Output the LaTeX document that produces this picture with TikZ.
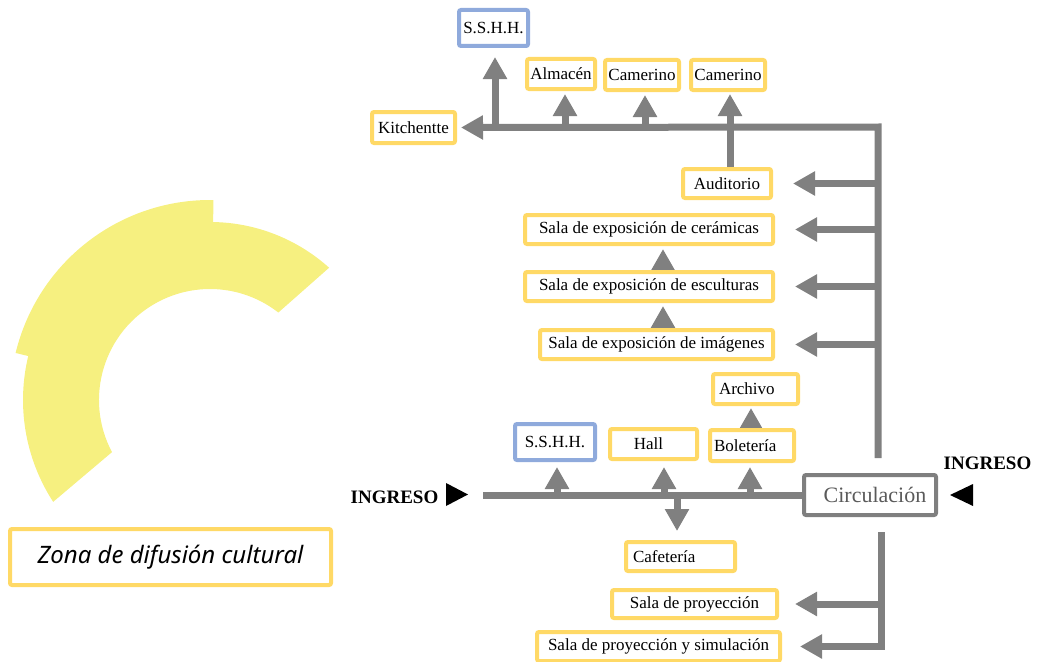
\documentclass[tikz,border=0pt]{standalone}
\usepackage{fontspec}
\setmainfont{Liberation Serif}
\newfontfamily\legendfont{Noto Sans}
\usetikzlibrary{arrows.meta,calc}
\definecolor{zyellow}{HTML}{FFD966}
\definecolor{zblue}{HTML}{8FAADC}
\definecolor{zgray}{HTML}{808080}
\definecolor{zcirc}{HTML}{7F7F7F}
\definecolor{zctext}{HTML}{5A5A5A}
\definecolor{zzone}{HTML}{F6F080}
\newcommand\fsz[1]{\fontsize{#1}{#1}\selectfont}
\pgfdeclarelayer{back}
\pgfsetlayers{back,main}
\tikzset{
  zbox/.style={draw=zyellow, line width=4pt, fill=white, rounded corners=2pt,
    inner sep=0pt, font=\fsz{17}, text=black},
  bbox/.style={zbox, draw=zblue},
  cbox/.style={zbox, draw=zcirc, text=zctext, font=\fsz{22}},
  ln/.style={draw=zgray, line width=7pt},
  arr/.style={ln, -{Triangle[length=22pt,width=23pt]}},
  ingreso/.style={font=\bfseries\fsz{19}, inner sep=0pt},
}
\begin{document}
\begin{tikzpicture}[x=1pt,y=-1pt]
\useasboundingbox (0,0) rectangle (1041,661);
\clip (0,0) rectangle (1041,661);

% zone sketch: annular band with three outer radii
\coordinate (zc) at (210,400);
\fill[zzone] ($(zc)+(-48:178)$) arc[start angle=-48, end angle=-89, radius=178]
  -- ($(zc)+(-89:200)$) arc[start angle=-89, end angle=-166.4, radius=200]
  -- ($(zc)+(-166.4:187)$) arc[start angle=-166.4, end angle=-213, radius=187]
  -- ($(zc)+(-208:111)$) arc[start angle=-208, end angle=-52, radius=111]
  -- cycle;

% legend
\node[zbox, minimum width=321, minimum height=56, font=\legendfont\itshape\fsz{24}]
  (legend) at (170.5,557) {Zona de difusión cultural};

% upper group
\node[bbox, minimum width=69, minimum height=36] (sshhA) at (493.5,28) {S.S.H.H.};
\node[zbox, minimum width=68, minimum height=30] (alm) at (561,74) {Almacén};
\node[zbox, minimum width=74, minimum height=30] (cam1) at (642,75) {Camerino};
\node[zbox, minimum width=74, minimum height=30] (cam2) at (728,75) {Camerino};
\node[zbox, minimum width=83, minimum height=31] (kit) at (413.5,127.5) {Kitchentte};
\node[zbox, minimum width=88, minimum height=29] (aud) at (727,183.5) {Auditorio};
\node[zbox, minimum width=248, minimum height=29] (cer) at (649,229.5) {Sala de exposición de cerámicas};
\node[zbox, minimum width=248, minimum height=29] (esc) at (649,286.5) {Sala de exposición de esculturas};
\node[zbox, minimum width=233, minimum height=29] (img) at (656.5,344.5) {Sala de exposición de imágenes};

% entrance level
\node[zbox, minimum width=85, minimum height=30, text width=73, align=left] (arch) at (755.5,389) {Archivo};
\node[zbox, minimum width=84, minimum height=31, text width=76, align=left] (bol) at (752,445.5) {Boletería};
\node[bbox, minimum width=80, minimum height=36] (sshhB) at (555,442) {S.S.H.H.};
\node[zbox, minimum width=87, minimum height=30, xshift=0pt] (hall) at (653.5,444) {Hall\hspace*{10pt}};
\node[cbox, minimum width=132, minimum height=40] (circ) at (870,495) {\hspace*{10pt}Circulación};
\node[zbox, minimum width=109, minimum height=29, text width=95, align=left] (caf) at (680.5,556.5) {Cafetería};
\node[zbox, minimum width=165, minimum height=28] (proy) at (694.5,604) {Sala de proyección};
\node[zbox, minimum width=243, minimum height=29] (sim) at (658.5,646.5) {Sala de proyección y simulación};

% entrances
\node[ingreso] (inL) at (394.5,497) {INGRESO};
\node[ingreso] (inR) at (987.5,463) {INGRESO};
\fill (446,483) -- (468,494.5) -- (446,506) -- cycle;
\fill (973,484) -- (950,495) -- (973,506) -- cycle;

\begin{pgfonlayer}{back}
% trunk coordinates
\coordinate (TR) at (878,127);
\coordinate (L) at (483,495);
\coordinate (lx) at (881,0);
\coordinate (ax) at (663,0);
\coordinate (x1) at (495,0);
\coordinate (x2) at (565,0);
\coordinate (x3) at (645,0);
\coordinate (x4) at (730,0);
\coordinate (b1) at (557,0);
\coordinate (b2) at (664,0);
\coordinate (b3) at (750,0);
\coordinate (b4) at (677,0);
\coordinate (b5) at (751,0);

% upper corridor
\draw[ln, {Triangle[length=22pt,width=23pt]}-, shorten <=4pt, shorten >=15pt]
  (kit.east) -- (TR) -- (circ.north -| TR);
\draw[arr, shorten >=9pt] (x1 |- TR) -- (sshhA.south -| x1);
\draw[arr, shorten >=3pt] (x2 |- TR) -- (alm.south -| x2);
\draw[arr, shorten >=3pt] (x3 |- TR) -- (cam1.south -| x3);
\draw[arr, shorten >=2pt] (aud.north -| x4) -- (cam2.south -| x4);
\foreach \n in {aud,cer,esc,img}
  \draw[arr, shorten >=20pt] (\n.east -| TR) -- (\n.east);
\draw[arr, shorten >=3pt] (esc.north -| ax) -- (cer.south -| ax);
\draw[arr, shorten >=3pt] (img.north -| ax) -- (esc.south -| ax);

% entrance corridor
\draw[ln] (L) -- (circ.west);
\draw[arr, shorten >=5pt] (b1 |- L) -- (sshhB.south -| b1);
\draw[arr, shorten >=6pt] (b2 |- L) -- (hall.south -| b2);
\draw[arr, shorten >=4pt] (b3 |- L) -- (bol.south -| b3);
\draw[arr, shorten >=9pt] (b4 |- L) -- (caf.north -| b4);
\draw[arr, shorten >=2pt] (bol.north -| b5) -- (arch.south -| b5);

% lower corridor
\draw[arr, shorten <=15pt, shorten >=18pt] (circ.south -| lx) -- (sim.east -| lx) -- (sim.east);
\draw[arr, shorten >=16pt] (proy.east -| lx) -- (proy.east);
\end{pgfonlayer}
\end{tikzpicture}
\end{document}
